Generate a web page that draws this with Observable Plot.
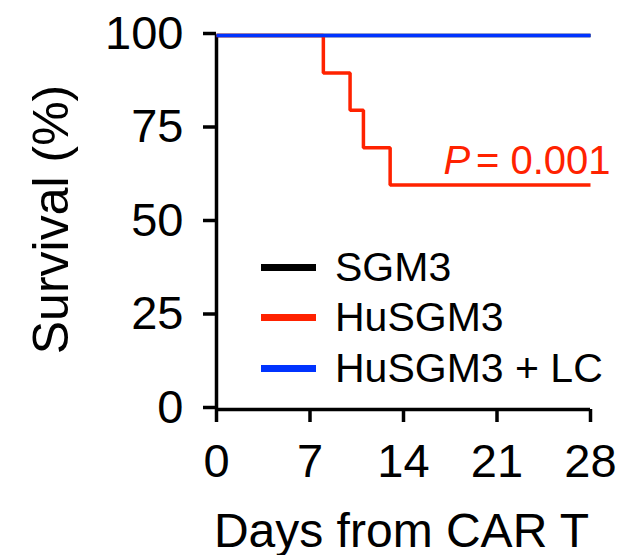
<!DOCTYPE html>
<html><head><meta charset="utf-8">
<script src="https://cdn.jsdelivr.net/npm/d3@7"></script>
<script src="https://cdn.jsdelivr.net/npm/@observablehq/plot@0.6"></script>
<style>
body{margin:0;background:#fff;}
#wrap{position:relative;width:621px;height:555px;font-family:"Liberation Sans",Arial,sans-serif;color:#000;}
#legend{position:absolute;left:261px;top:242px;}
#legend .row{display:flex;align-items:center;height:50.5px;}
#legend .sw{width:55px;height:7px;margin-right:19px;}
#legend .tx{font-size:41px;line-height:1;white-space:nowrap;}
</style></head><body><div id="wrap"></div>
<script>
// ---- data ----
const groups = ["SGM3", "HuSGM3", "HuSGM3 + LC"];
const colors = ["#000000", "#ff2200", "#0033ff"];
const sgm3Days = [0, 28];
const sgm3Surv = [100, 100];
const huDays = [0, 8, 10, 11, 13, 28];
const huSurv = [100, 90, 80, 70, 60, 60];
const lcDays = [0, 28];
const lcSurv = [100, 100];
const xTicks = [0, 7, 14, 21, 28];
const yTicks = [0, 25, 50, 75, 100];
const xLabel = "Days from CAR T";
const yLabel = "Survival (%)";
const pItalic = "P";
const pRest = "= 0.001";

const series = [sgm3Days.map((d, i) => ({g: groups[0], x: d, y: sgm3Surv[i]})),
                huDays.map((d, i) => ({g: groups[1], x: d, y: huSurv[i]})),
                lcDays.map((d, i) => ({g: groups[2], x: d, y: lcSurv[i]}))];
const last = {x: huDays[huDays.length - 1], y: huSurv[huSurv.length - 1]};

const chart = Plot.plot({
  width: 621, height: 555,
  marginLeft: 216, marginRight: 31, marginTop: 35, marginBottom: 146,
  style: {fontFamily: "'Liberation Sans', Arial, sans-serif", fontSize: "47px", color: "#000", background: "#fff", overflow: "visible"},
  x: {domain: [0, 28]},
  y: {domain: [0, 100]},
  marks: [
    Plot.axisX({ticks: xTicks, tickSize: 13, tickPadding: 21, strokeWidth: 3.5, label: null}),
    Plot.axisY({ticks: yTicks, tickSize: 13, tickPadding: 20, strokeWidth: 3.5, label: null, dy: -2}),
    Plot.ruleX([0], {y1: 0, y2: 100, strokeWidth: 3.5}),
    Plot.ruleY([0], {x1: 0, x2: 28, strokeWidth: 3.5}),
    ...series.map((s, i) => Plot.line(s, {x: "x", y: "y", curve: "step-after", stroke: colors[i], strokeWidth: 3.5, strokeLinejoin: "miter", strokeLinecap: "butt"})),
    Plot.text([pRest], {x: () => last.x, y: () => last.y, text: d => d, textAnchor: "end", lineAnchor: "bottom", dx: 20, dy: -11, fill: "#ff2200", fontSize: 40}),
    Plot.text([pItalic], {x: () => last.x, y: () => last.y, text: d => d, textAnchor: "start", lineAnchor: "bottom", dx: -147, dy: -11, fill: "#ff2200", fontSize: 40, fontStyle: "italic"}),
    Plot.text([xLabel], {frameAnchor: "bottom", text: d => d, lineAnchor: "bottom", textAnchor: "middle", dx: -2, dy: 137, fontSize: 48}),
    Plot.text([yLabel], {frameAnchor: "left", text: d => d, rotate: -90, textAnchor: "middle", lineAnchor: "bottom", dx: -149, dy: -3, fontSize: 50})
  ]
});
const wrap = document.getElementById("wrap");
wrap.appendChild(chart);
const leg = document.createElement("div");
leg.id = "legend";
groups.forEach((g, i) => {
  const r = document.createElement("div"); r.className = "row";
  const sw = document.createElement("div"); sw.className = "sw"; sw.style.background = colors[i];
  const tx = document.createElement("span"); tx.className = "tx"; tx.textContent = g;
  r.appendChild(sw); r.appendChild(tx); leg.appendChild(r);
});
wrap.appendChild(leg);
</script></body></html>
